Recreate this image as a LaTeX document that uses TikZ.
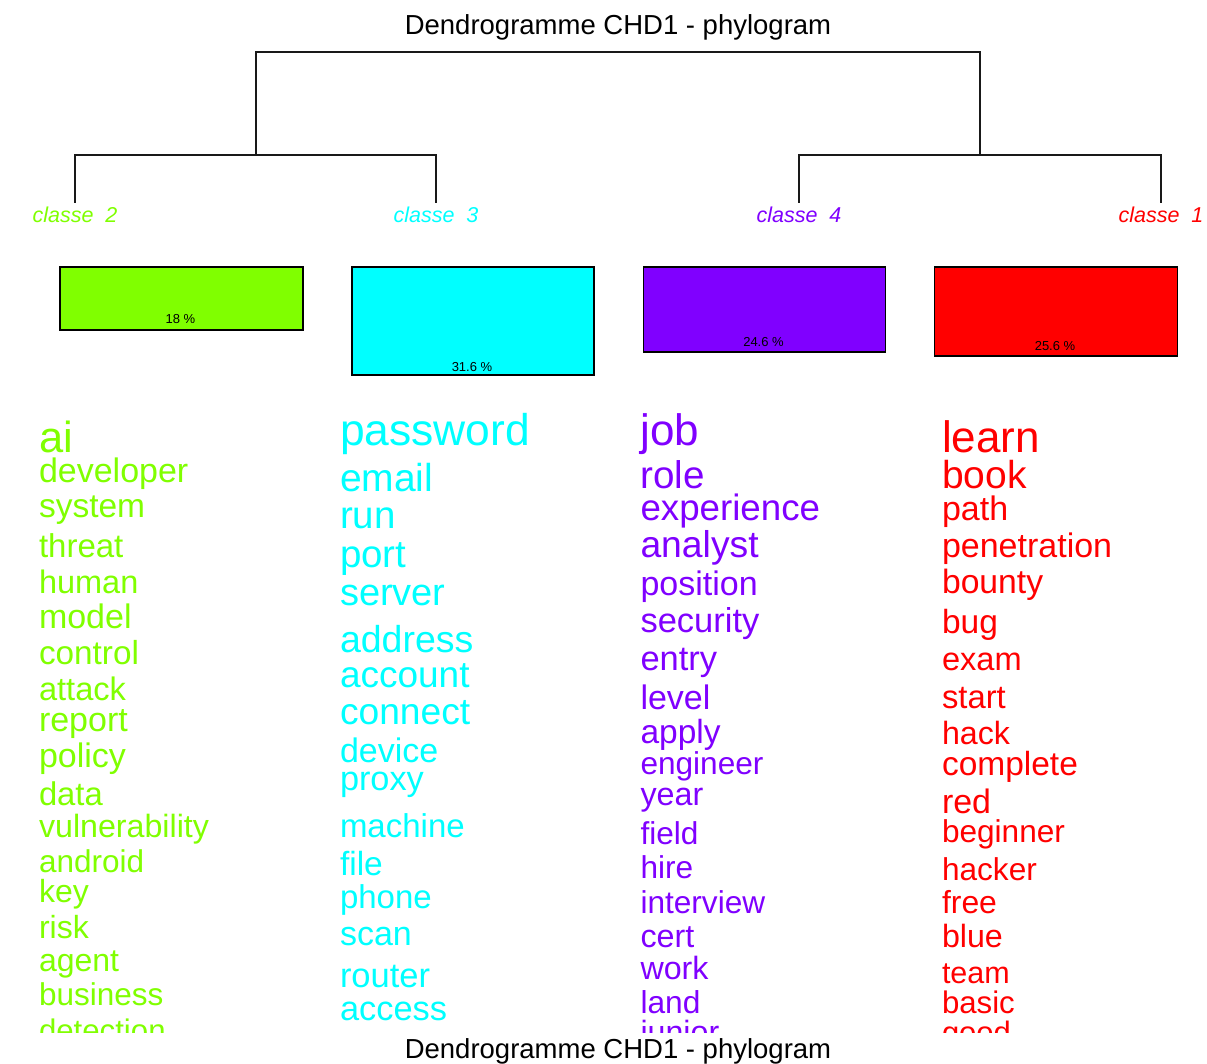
\documentclass[tikz,border=0pt]{standalone}
\usepackage{fontspec}
\setmainfont{Liberation Sans}
\definecolor{cA}{HTML}{FF0000}
\definecolor{cB}{HTML}{80FF00}
\definecolor{cC}{HTML}{00FFFF}
\definecolor{cD}{HTML}{8000FF}
\begin{document}
\begin{tikzpicture}[x=1pt,y=-1pt,
  word/.style={anchor=base west, inner sep=0pt, outer sep=0pt},
  ttl/.style={anchor=base, inner sep=0pt, font=\fontsize{27.5}{28}\selectfont},
  clab/.style={anchor=base, inner sep=0pt, font=\fontsize{21.5}{22}\selectfont\itshape},
  bar/.style={draw=black, line width=1.6pt, inner sep=0pt, anchor=north west},
  pct/.style={anchor=base, inner sep=0pt, font=\fontsize{13}{13}\selectfont, text=black},
  tree/.style={line width=1.3pt, draw=black!90}]
\useasboundingbox (0,0) rectangle (1207,1064);
\clip (0,0) rectangle (1207,1064);
\fill[white] (0,0) rectangle (1207,1064);

% titles
\node[ttl] (title) at (618,35) {Dendrogramme CHD1 - phylogram};
\node[ttl] (title2) at (618,1058) {Dendrogramme CHD1 - phylogram};

% dendrogram
\coordinate (top) at (618,52);
\coordinate (n23) at (256,155);
\coordinate (n41) at (980,155);
\coordinate (l2) at (75,203);
\coordinate (l3) at (436,203);
\coordinate (l4) at (799,203);
\coordinate (l1) at (1161,203);
\draw[tree] (n23) |- (top) -| (n41);
\draw[tree] (l2) |- (n23) -| (l3);
\draw[tree] (l4) |- (n41) -| (l1);

% class labels
\node[clab, text=cB] (lab2) at (75,223) {classe\ \ 2};
\node[clab, text=cC] (lab3) at (436,223) {classe\ \ 3};
\node[clab, text=cD] (lab4) at (799,223) {classe\ \ 4};
\node[clab, text=cA] (lab1) at (1161,223) {classe\ \ 1};

% bars
\node[bar, fill=cB, minimum width=243pt, minimum height=63pt] (box2) at (59,266) {};
\node[bar, fill=cC, minimum width=242pt, minimum height=108pt] (box3) at (351,266) {};
\node[bar, fill=cD, minimum width=242pt, minimum height=85.5pt] (box4) at (642.5,266) {};
\node[bar, fill=cA, minimum width=243pt, minimum height=89pt] (box1) at (933.5,266) {};
\node[pct] (p2) at (180.5,323.5) {18 \%};
\node[pct] (p3) at (472,371) {31.6 \%};
\node[pct] (p4) at (763.5,347) {24.6 \%};
\node[pct] (p1) at (1055,351) {25.6 \%};

% word lists
\begin{scope}
\clip (0,380) rectangle (1207,1032);
\foreach \t/\y/\s [count=\i] in {ai/452/43.5, developer/482/34, system/517/33.5, threat/557/33, human/593/32.5, model/628/34, control/664/33.3, attack/700/32.6, report/731/34, policy/767/34, data/805/32.8, vulnerability/837/32.2, android/872/31.5, key/902/32, risk/938/32, agent/971/32, business/1005/31.5, detection/1041/31.2}
  \node[word, text=cB, font=\fontsize{\s}{\s}\selectfont] (g\i) at (39,\y) {\t};
\foreach \t/\y/\s [count=\i] in {password/445/44.4, email/491/39, run/528/38.5, port/567/38.5, server/605/38, address/652/37.5, account/687/37, connect/724/37.2, device/762/34, proxy/790/34.3, machine/837/33, file/875/33.5, phone/908/33, scan/945/34, router/987/34.5, access/1020/34.4}
  \node[word, text=cC, font=\fontsize{\s}{\s}\selectfont] (c\i) at (340,\y) {\t};
\foreach \t/\y/\s [count=\i] in {job/445/44, role/488/38.6, experience/520/36.7, analyst/557/37.3, position/595/34, security/632/34.5, entry/670/34.5, level/709/34, apply/743/33.5, engineer/774/31.6, year/805/32.3, field/844/31.6, hire/878/31.6, interview/913/31.6, cert/947/32.3, work/979/32.2, land/1013/31.7, junior/1043/32.2}
  \node[word, text=cD, font=\fontsize{\s}{\s}\selectfont] (v\i) at (640.5,\y) {\t};
\foreach \t/\y/\s [count=\i] in {learn/452/44, book/488/39, path/520/34, penetration/557/34, bounty/593/33.7, bug/633/33.5, exam/670/32.6, start/708/32.8, hack/744/32.2, complete/775/33.5, red/813/33.9, beginner/842/31.6, hacker/880/31.6, free/913/31.9, blue/947/32.2, team/983/30.5, basic/1013/31.2, good/1043/31}
  \node[word, text=cA, font=\fontsize{\s}{\s}\selectfont] (r\i) at (942,\y) {\t};
\end{scope}
\end{tikzpicture}
\end{document}
